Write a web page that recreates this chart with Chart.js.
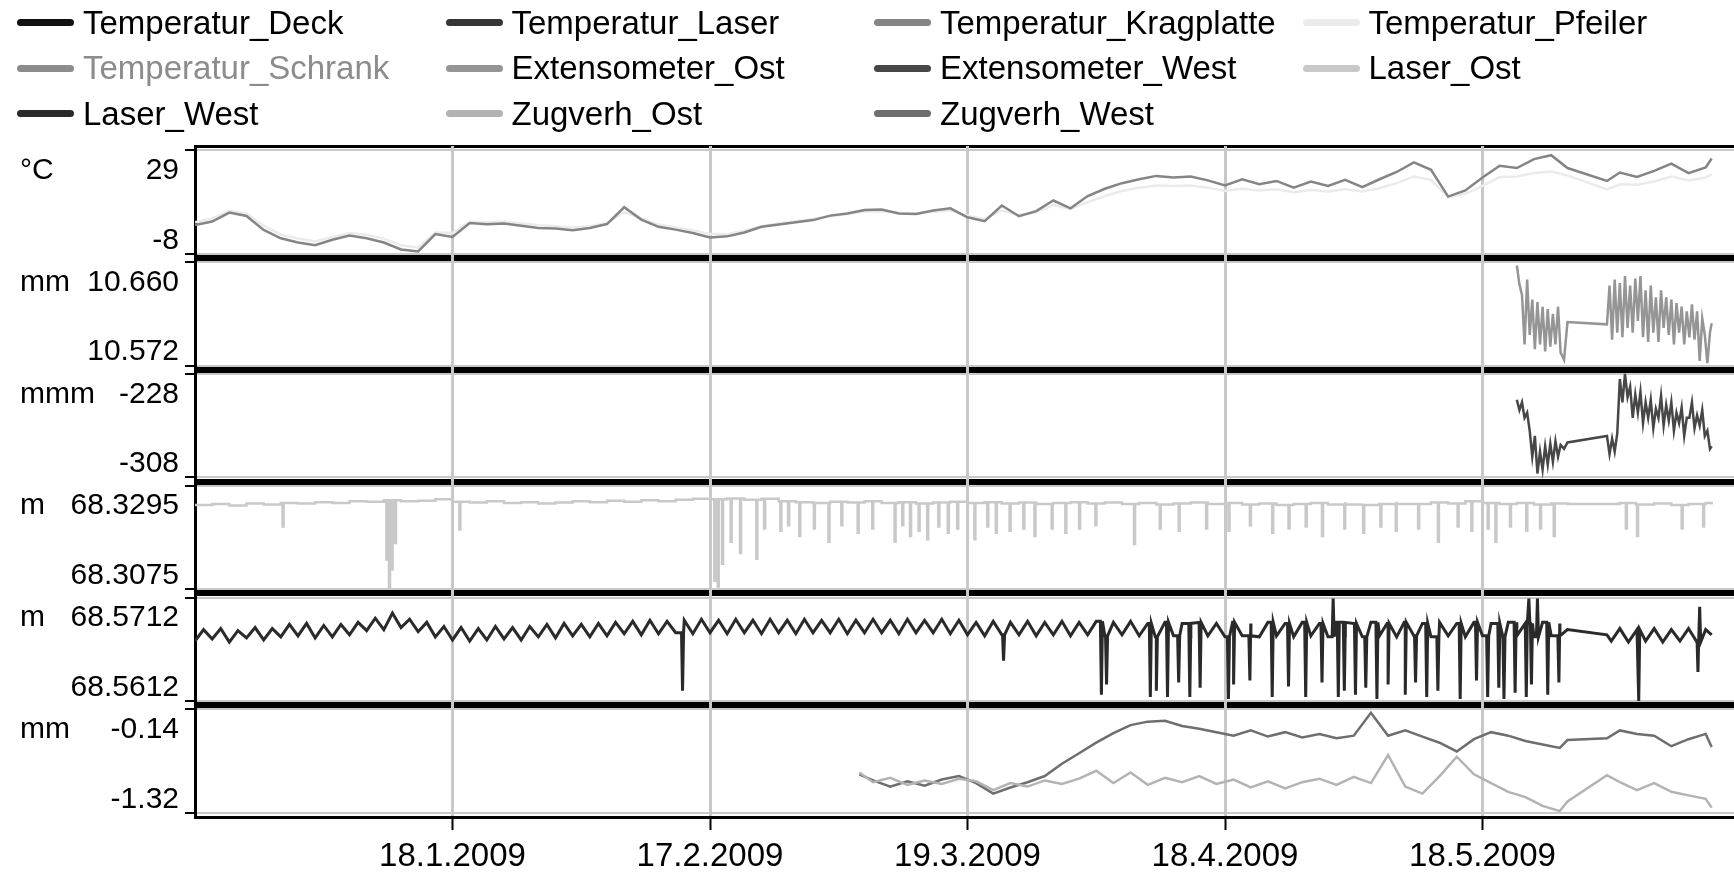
<!DOCTYPE html>
<html>
<head>
<meta charset="utf-8">
<script src="https://cdn.jsdelivr.net/npm/chart.js@4.4.1/dist/chart.umd.min.js"></script>
<style>
  html, body { margin: 0; padding: 0; background: #fff; }
  #wrap { position: relative; width: 1734px; height: 872px; overflow: hidden; }
  #chart { position: absolute; left: 0; top: 0; }
  #legend {
    position: absolute; left: 17px; top: 0;
    display: grid; grid-template-columns: repeat(4, 428.5px); grid-auto-rows: 45.5px;
    font: 33px "Liberation Sans", Arial, sans-serif;
  }
  .item { display: flex; align-items: center; white-space: nowrap; }
  .swatch { width: 57px; height: 7px; border-radius: 4px; margin-right: 9px; }
</style>
</head>
<body>
<div id="wrap">
  <canvas id="chart" width="1734" height="884"></canvas>
  <div id="legend"></div>
</div>
<script>
// x values are days counted from 1.1.2009
const xTickDays = [17, 47, 77, 107, 137];
const xTickLabels = ['18.1.2009', '17.2.2009', '19.3.2009', '18.4.2009', '18.5.2009'];

const panelUnits = ['°C', 'mm', 'mmm', 'm', 'm', 'mm'];
const panelTickLabels = [
  ['-8', '29'],
  ['10.572', '10.660'],
  ['-308', '-228'],
  ['68.3075', '68.3295'],
  ['68.5612', '68.5712'],
  ['-1.32', '-0.14']
];

const seriesNames = [
  'Temperatur_Deck', 'Temperatur_Laser', 'Temperatur_Kragplatte', 'Temperatur_Pfeiler',
  'Temperatur_Schrank', 'Extensometer_Ost', 'Extensometer_West', 'Laser_Ost',
  'Laser_West', 'Zugverh_Ost', 'Zugverh_West'
];
const seriesColors = [
  '#111111', '#363636', '#858585', '#ebebeb',
  '#8c8c8c', '#959595', '#474747', '#c9c9c9',
  '#2a2a2a', '#b3b3b3', '#6e6e6e'
];
const seriesPanel = [0, 0, 0, 0, 0, 1, 2, 3, 4, 5, 5];
const seriesHidden = [false, false, false, false, true, false, false, false, false, false, false];

// 2-day grid (temperatures, Laser_Ost baseline)
const days2 = [
  -13, -11, -9, -7, -5, -3, -1, 1, 3, 5,
  7, 9, 11, 13, 15, 17, 19, 21, 23, 25,
  27, 29, 31, 33, 35, 37, 39, 41, 43, 45,
  47, 49, 51, 53, 55, 57, 59, 61, 63, 65,
  67, 69, 71, 73, 75, 77, 79, 81, 83, 85,
  87, 89, 91, 93, 95, 97, 99, 101, 103, 105,
  107, 109, 111, 113, 115, 117, 119, 121, 123, 125,
  127, 129, 131, 133, 135, 137, 139, 141, 143, 145,
  146.9, 151.5, 153, 155, 157, 159, 161, 163, 163.7
];
const tempKragplatte = [
  2.2, 3.5, 6.7, 5.5, 0.5, -2.5, -4.0, -5.0, -3.0, -1.5,
  -2.5, -4.0, -6.5, -7.2, -1.0, -2.0, 3.0, 2.5, 2.8, 2.0,
  1.2, 1.0, 0.4, 1.2, 2.6, 8.6, 4.2, 1.6, 0.6, -0.6,
  -2.2, -1.8, -0.4, 1.6, 2.4, 3.2, 4.0, 5.6, 6.4, 7.6,
  7.8, 6.4, 6.2, 7.4, 8.2, 5.0, 3.6, 9.2, 5.4, 7.2,
  11.0, 8.2, 12.6, 15.2, 17.2, 18.6, 19.8, 19.2, 19.6, 18.2,
  16.4, 18.6, 16.8, 18.0, 15.6, 17.8, 16.2, 18.4, 15.8, 18.6,
  21.2, 24.6, 22.0, 12.4, 14.6, 19.2, 23.4, 22.6, 25.8, 27.2,
  22.6, 18.0, 21.0, 19.4, 21.6, 24.2, 20.8, 22.8, 26.0
];
const tempPfeiler = [
  3.2, 4.6, 7.2, 6.4, 2.0, -1.2, -2.6, -3.6, -2.0, -0.6,
  -1.2, -2.6, -5.0, -5.8, -0.4, -0.6, 3.4, 3.2, 3.4, 2.8,
  2.2, 1.8, 1.4, 1.8, 3.0, 6.8, 4.6, 2.4, 1.4, 0.4,
  -1.0, -1.0, 0.2, 1.8, 2.8, 3.6, 4.4, 5.4, 6.2, 7.0,
  7.2, 6.6, 6.4, 7.0, 7.4, 5.6, 4.4, 7.4, 5.8, 6.8,
  9.4, 8.0, 10.4, 12.6, 14.4, 15.6, 16.4, 16.2, 16.4, 15.6,
  14.4, 15.2, 14.6, 15.0, 14.0, 14.8, 14.2, 15.0, 14.2, 15.4,
  17.2, 19.6, 18.4, 12.2, 13.4, 16.2, 19.4, 19.6, 20.8, 21.4,
  20.0, 15.0, 16.8, 16.6, 17.8, 19.6, 18.2, 19.2, 20.4
];

// Extensometer readings
const extDays = [
  141.0, 141.3, 141.6, 141.9, 142.2, 142.5, 142.8, 143.1, 143.4, 143.7,
  144.0, 144.3, 144.6, 144.9, 145.2, 145.5, 145.8, 146.1, 146.5, 146.9,
  151.5, 151.8, 152.1, 152.4, 152.7, 153.0, 153.3, 153.6, 153.9, 154.2,
  154.5, 154.8, 155.1, 155.4, 155.7, 156.0, 156.3, 156.6, 156.9, 157.2,
  157.5, 157.8, 158.1, 158.4, 158.7, 159.0, 159.3, 159.6, 159.9, 160.2,
  160.5, 160.8, 161.1, 161.4, 161.7, 162.0, 162.3, 162.6, 162.9, 163.2,
  163.5, 163.7
];
const extOst = [
  10.657, 10.641, 10.632, 10.590, 10.645, 10.598, 10.628, 10.586, 10.626, 10.590,
  10.622, 10.584, 10.620, 10.588, 10.616, 10.590, 10.622, 10.583, 10.577, 10.609,
  10.607, 10.640, 10.594, 10.645, 10.600, 10.642, 10.596, 10.648, 10.604, 10.640,
  10.600, 10.646, 10.610, 10.648, 10.596, 10.636, 10.592, 10.640, 10.600, 10.630,
  10.592, 10.636, 10.604, 10.630, 10.598, 10.628, 10.590, 10.625, 10.600, 10.622,
  10.590, 10.618, 10.596, 10.624, 10.594, 10.618, 10.576, 10.612, 10.598, 10.574,
  10.600, 10.608
];
const extWest = [
  -248, -256, -250, -262, -258, -272, -292, -276, -305, -288,
  -302, -284, -298, -282, -296, -280, -292, -283, -286, -281,
  -276, -290, -278, -288, -274, -232, -250, -228, -246, -238,
  -262, -244, -258, -242, -266, -250, -262, -248, -270, -255,
  -262, -245, -268, -252, -264, -250, -272, -258, -266, -254,
  -276, -262, -262, -250, -270, -260, -268, -256, -276, -272,
  -286, -284
];

// Laser_Ost: baseline on days2 plus single-sample drop-outs
const laserOst = [
  68.3254, 68.3256, 68.3253, 68.3257, 68.3255, 68.3258, 68.3257, 68.3260, 68.3258, 68.3262,
  68.3261, 68.3264, 68.3262, 68.3263, 68.3266, 68.3261, 68.3259, 68.3262, 68.3258, 68.3260,
  68.3257, 68.3259, 68.3262, 68.3260, 68.3263, 68.3261, 68.3264, 68.3262, 68.3265, 68.3267,
  68.3266, 68.3268, 68.3265, 68.3267, 68.3262, 68.3260, 68.3258, 68.3261, 68.3259, 68.3262,
  68.3258, 68.3260, 68.3257, 68.3259, 68.3261, 68.3258, 68.3260, 68.3257, 68.3259, 68.3256,
  68.3258, 68.3260, 68.3257, 68.3259, 68.3256, 68.3258, 68.3255, 68.3257, 68.3259, 68.3256,
  68.3258, 68.3255, 68.3257, 68.3254, 68.3256, 68.3258, 68.3255, 68.3257, 68.3254, 68.3256,
  68.3258, 68.3256, 68.3259, 68.3257, 68.3262, 68.3258, 68.3256, 68.3258, 68.3255, 68.3257,
  68.3256, 68.3256, 68.3258, 68.3255, 68.3257, 68.3254, 68.3256, 68.3258, 68.3255
];
const laserOstSpikeDays = [
  -2.8, 9.3, 9.6, 9.9, 10.3, 17.8, 47.5, 47.9, 48.4, 49.4,
  50.5, 52.4, 53.3, 55.2, 56.1, 57.4, 59.1, 60.8, 62.3, 64.2,
  65.9, 68.5, 69.4, 70.3, 71.3, 72.3, 73.6, 74.7, 75.8, 77.8,
  79.3, 80.3, 81.9, 83.5, 84.8, 86.8, 88.4, 90.0, 91.9, 96.4,
  99.4, 101.6, 104.8, 107.4, 109.9, 112.5, 114.4, 116.4, 118.3, 120.9,
  123.1, 125.1, 126.9, 129.5, 131.8, 134.1, 135.7, 137.6, 138.5, 140.2,
  142.1, 143.7, 145.3, 153.7, 155.0, 160.2, 162.7
];
const laserOstSpikeValues = [
  68.3208, 68.3138, 68.3077, 68.3117, 68.3173, 68.3202, 68.3093, 68.3081, 68.3129, 68.3176,
  68.3152, 68.3140, 68.3204, 68.3199, 68.3211, 68.3188, 68.3204, 68.3176, 68.3211, 68.3195,
  68.3204, 68.3176, 68.3211, 68.3188, 68.3199, 68.3181, 68.3208, 68.3195, 68.3204, 68.3181,
  68.3208, 68.3195, 68.3199, 68.3204, 68.3188, 68.3204, 68.3195, 68.3204, 68.3211, 68.3171,
  68.3204, 68.3199, 68.3204, 68.3199, 68.3211, 68.3195, 68.3204, 68.3208, 68.3188, 68.3204,
  68.3195, 68.3208, 68.3199, 68.3204, 68.3176, 68.3208, 68.3199, 68.3204, 68.3176, 68.3208,
  68.3199, 68.3204, 68.3188, 68.3204, 68.3188, 68.3204, 68.3208
];

// Laser_West: daily readings plus drop-outs
const days1 = [
  -13, -12, -11, -10, -9, -8, -7, -6, -5, -4,
  -3, -2, -1, 0, 1, 2, 3, 4, 5, 6,
  7, 8, 9, 10, 11, 12, 13, 14, 15, 16,
  17, 18, 19, 20, 21, 22, 23, 24, 25, 26,
  27, 28, 29, 30, 31, 32, 33, 34, 35, 36,
  37, 38, 39, 40, 41, 42, 43, 44, 45, 46,
  47, 48, 49, 50, 51, 52, 53, 54, 55, 56,
  57, 58, 59, 60, 61, 62, 63, 64, 65, 66,
  67, 68, 69, 70, 71, 72, 73, 74, 75, 76,
  77, 78, 79, 80, 81, 82, 83, 84, 85, 86,
  87, 88, 89, 90, 91, 92, 93, 94, 95, 96,
  97, 98, 99, 100, 101, 102, 103, 104, 105, 106,
  107, 108, 109, 110, 111, 112, 113, 114, 115, 116,
  117, 118, 119, 120, 121, 122, 123, 124, 125, 126,
  127, 128, 129, 130, 131, 132, 133, 134, 135, 136,
  137, 138, 139, 140, 141, 142, 143, 144, 145, 146,
  146.9, 151.5,
  152, 153, 154, 155, 156, 157, 158, 159, 160, 161, 162, 163,
  163.7
];
const laserWest = [
  68.5670, 68.5681, 68.5672, 68.5682, 68.5669, 68.5680, 68.5673, 68.5683, 68.5671, 68.5682,
  68.5674, 68.5686, 68.5675, 68.5687, 68.5673, 68.5685, 68.5674, 68.5686, 68.5676, 68.5688,
  68.5680, 68.5692, 68.5681, 68.5697, 68.5683, 68.5691, 68.5679, 68.5688, 68.5674, 68.5684,
  68.5671, 68.5683, 68.5670, 68.5682, 68.5671, 68.5684, 68.5672, 68.5683, 68.5671, 68.5684,
  68.5674, 68.5686, 68.5673, 68.5687, 68.5675, 68.5686, 68.5674, 68.5687, 68.5675, 68.5688,
  68.5677, 68.5689, 68.5676, 68.5690, 68.5677, 68.5689, 68.5678, 68.5690, 68.5677, 68.5691,
  68.5678, 68.5690, 68.5677, 68.5691, 68.5678, 68.5690, 68.5677, 68.5691, 68.5678, 68.5690,
  68.5677, 68.5691, 68.5678, 68.5690, 68.5678, 68.5691, 68.5677, 68.5690, 68.5678, 68.5691,
  68.5678, 68.5690, 68.5677, 68.5691, 68.5678, 68.5690, 68.5678, 68.5691, 68.5677, 68.5690,
  68.5676, 68.5688, 68.5675, 68.5689, 68.5676, 68.5688, 68.5676, 68.5689, 68.5675, 68.5688,
  68.5676, 68.5689, 68.5675, 68.5688, 68.5676, 68.5689, 68.5675, 68.5688, 68.5676, 68.5689,
  68.5675, 68.5687, 68.5674, 68.5688, 68.5675, 68.5687, 68.5674, 68.5688, 68.5675, 68.5687,
  68.5674, 68.5688, 68.5675, 68.5687, 68.5674, 68.5688, 68.5675, 68.5687, 68.5674, 68.5688,
  68.5675, 68.5687, 68.5674, 68.5688, 68.5675, 68.5687, 68.5674, 68.5688, 68.5675, 68.5687,
  68.5674, 68.5688, 68.5675, 68.5687, 68.5674, 68.5688, 68.5675, 68.5687, 68.5674, 68.5688,
  68.5675, 68.5687, 68.5674, 68.5688, 68.5675, 68.5687, 68.5674, 68.5688, 68.5675, 68.5687,
  68.5681, 68.5676,
  68.5670, 68.5682, 68.5669, 68.5681, 68.5670, 68.5682, 68.5669, 68.5681, 68.5670, 68.5682, 68.5669, 68.5681,
  68.5676
];
const laserWestSpikeDays = [
  43.8, 81.2, 92.6, 93.2, 98.3, 99.0, 100.3, 101.6, 102.9, 104.1,
  107.4, 108.0, 109.9, 112.5, 114.4, 116.4, 118.3, 119.6, 120.2, 120.9,
  122.2, 123.4, 124.7, 126.0, 128.0, 129.2, 130.5, 131.8, 134.4, 136.3,
  137.6, 138.9, 139.5, 140.8, 142.1, 142.4, 142.7, 143.4, 144.6, 145.9,
  155.2, 162.1, 162.3
];
const laserWestSpikeValues = [
  68.5622, 68.5651, 68.5618, 68.5628, 68.5616, 68.5622, 68.5616, 68.5630, 68.5616, 68.5625,
  68.5614, 68.5628, 68.5632, 68.5616, 68.5626, 68.5616, 68.5630, 68.5711, 68.5616, 68.5622,
  68.5618, 68.5625, 68.5614, 68.5628, 68.5618, 68.5630, 68.5616, 68.5622, 68.5614, 68.5632,
  68.5616, 68.5625, 68.5614, 68.5620, 68.5616, 68.5711, 68.5628, 68.5711, 68.5618, 68.5630,
  68.5612, 68.5640, 68.5703
];

// Zugverhalten
const zugDays = [
  64.4, 66, 68, 70, 72, 74, 76, 78, 80, 82,
  84, 86, 88, 90, 92, 94, 96, 98, 100, 102,
  104, 106, 108, 110, 112, 114, 116, 118, 120, 122,
  124, 126, 128, 130, 132, 134, 136, 138, 140, 142,
  144, 146, 146.9, 151.5, 153, 155, 157, 159, 161, 163,
  163.7
];
const zugOst = [
  -0.86, -0.97, -0.92, -1.00, -0.95, -0.99, -0.93, -0.96, -1.06, -0.98,
  -1.02, -0.95, -0.99, -0.93, -0.84, -0.98, -0.86, -1.00, -0.92, -0.97,
  -0.90, -0.99, -0.94, -1.03, -0.96, -1.04, -0.97, -0.93, -1.00, -0.91,
  -0.98, -0.66, -1.02, -1.10, -0.90, -0.68, -0.88, -0.98, -1.08, -1.14,
  -1.24, -1.30, -1.19, -0.89, -0.97, -1.06, -0.98, -1.08, -1.12, -1.16,
  -1.26
];
const zugWest = [
  -0.88, -0.95, -1.02, -0.96, -1.01, -0.94, -0.90, -0.98, -1.10, -1.03,
  -0.97, -0.90, -0.76, -0.64, -0.52, -0.41, -0.32, -0.28, -0.27, -0.33,
  -0.36, -0.40, -0.44, -0.38, -0.45, -0.40, -0.46, -0.42, -0.47, -0.44,
  -0.18, -0.44, -0.38, -0.45, -0.52, -0.62, -0.48, -0.40, -0.44, -0.50,
  -0.54, -0.58, -0.49, -0.47, -0.38, -0.42, -0.44, -0.56, -0.48, -0.42,
  -0.57
];

function points(days, values) {
  return days.map((d, i) => ({ x: d, y: values[i] }));
}

// drop-outs: leave the last baseline value, hit the reading, come straight back
function withSpikes(days, values, spikeDays, spikeValues) {
  const pts = points(days, values);
  spikeDays.forEach((d, i) => {
    let base = values[0];
    days.forEach((dd, j) => { if (dd <= d) base = values[j]; });
    pts.push({ x: d - 0.12, y: base }, { x: d, y: spikeValues[i] }, { x: d + 0.12, y: base });
  });
  return pts.sort((a, b) => a.x - b.x);
}

const seriesData = [
  [],
  [],
  points(days2, tempKragplatte),
  points(days2, tempPfeiler),
  [],
  points(extDays, extOst),
  points(extDays, extWest),
  withSpikes(days2, laserOst, laserOstSpikeDays, laserOstSpikeValues),
  withSpikes(days1, laserWest, laserWestSpikeDays, laserWestSpikeValues),
  points(zugDays, zugOst),
  points(zugDays, zugWest)
];

const FONT = '"Liberation Sans", Arial, sans-serif';
const Y_FONT = 30;
const Y_LINE = 1.13;
const Y_SHIFT = 3.5;
Chart.defaults.font.family = FONT;

const datasets = seriesNames.map((name, i) => ({
  label: name,
  data: seriesData[i],
  xAxisID: 'x',
  yAxisID: 'y' + seriesPanel[i],
  borderColor: seriesColors[i],
  backgroundColor: seriesColors[i],
  borderWidth: seriesPanel[i] === 4 ? 3 : 2.5,
  pointRadius: 0,
  tension: 0,
  stepped: seriesPanel[i] === 3,
  hidden: seriesHidden[i]
}));

const lastPanel = panelUnits.length - 1;
const scales = {};
// stacked scales: the last one defined sits on top
for (let k = lastPanel; k >= 0; k--) {
  const lo = parseFloat(panelTickLabels[k][0]);
  const hi = parseFloat(panelTickLabels[k][1]);
  const pad = (hi - lo) * 0.04;
  scales['y' + k] = {
    type: 'linear',
    position: 'left',
    stack: 'panels',
    stackWeight: 1,
    min: lo - pad,
    max: hi + pad,
    afterBuildTicks: s => { s.ticks = [lo - pad, lo, hi, hi + pad].map(v => ({ value: v })); },
    afterFit: s => { s.width = 195; },
    border: { color: '#000', width: 3 },
    grid: {
      color: c => (c.index === 0 || c.index === 3) ? '#000' : '#c8c8c8',
      lineWidth: c => {
        if ((c.index === 3 && k === 0) || (c.index === 0 && k === lastPanel)) return 3;
        return (c.index === 0 || c.index === 3) ? 6 : 2;
      },
      tickColor: c => (c.index === 1 || c.index === 2) ? '#000' : 'rgba(0,0,0,0)',
      tickLength: 10,
      tickWidth: 2
    },
    ticks: {
      autoSkip: false,
      padding: 6,
      labelOffset: Y_SHIFT,
      color: '#000',
      font: { size: Y_FONT, lineHeight: Y_LINE },
      callback: (v, i) => {
        if (i === 1) return [panelTickLabels[k][0], ''];
        if (i === 2) return ['', panelTickLabels[k][1]];
        return '';
      }
    }
  };
}
scales.x = {
  type: 'linear',
  position: 'bottom',
  min: -13,
  max: 166.3,
  z: -1,
  afterBuildTicks: s => { s.ticks = xTickDays.map(v => ({ value: v })); },
  border: { color: '#000', width: 3 },
  grid: { color: '#c8c8c8', lineWidth: 3, tickColor: '#000', tickWidth: 2, tickLength: 13 },
  ticks: {
    autoSkip: false,
    maxRotation: 0,
    padding: 8,
    color: '#000',
    font: { size: 33, lineHeight: 1.15 },
    callback: v => xTickLabels[xTickDays.indexOf(v)]
  }
};

const htmlLegend = {
  id: 'htmlLegend',
  afterUpdate(chart) {
    const box = document.getElementById('legend');
    box.innerHTML = '';
    chart.options.plugins.legend.labels.generateLabels(chart).forEach(item => {
      const row = document.createElement('div');
      row.className = 'item';
      const sw = document.createElement('span');
      sw.className = 'swatch';
      sw.style.background = item.strokeStyle;
      const txt = document.createElement('span');
      txt.textContent = item.text;
      txt.style.color = item.hidden ? '#8c8c8c' : '#000';
      row.appendChild(sw);
      row.appendChild(txt);
      box.appendChild(row);
    });
  }
};

const unitLabels = {
  id: 'unitLabels',
  afterDraw(chart) {
    const ctx = chart.ctx;
    ctx.save();
    ctx.font = Y_FONT + 'px ' + FONT;
    ctx.fillStyle = '#000';
    ctx.textAlign = 'left';
    ctx.textBaseline = 'middle';
    panelUnits.forEach((u, k) => {
      const s = chart.scales['y' + k];
      const y = s.getPixelForValue(parseFloat(panelTickLabels[k][1])) + Y_FONT * Y_LINE / 2 + Y_SHIFT;
      ctx.fillText(u, 20, y);
    });
    ctx.restore();
  }
};

new Chart(document.getElementById('chart'), {
  type: 'line',
  data: { datasets },
  options: {
    responsive: false,
    animation: false,
    devicePixelRatio: 1,
    layout: { padding: { top: 146, left: 0, right: 0, bottom: 0 } },
    plugins: { legend: { display: false }, tooltip: { enabled: false } },
    scales
  },
  plugins: [htmlLegend, unitLabels]
});
</script>
</body>
</html>
